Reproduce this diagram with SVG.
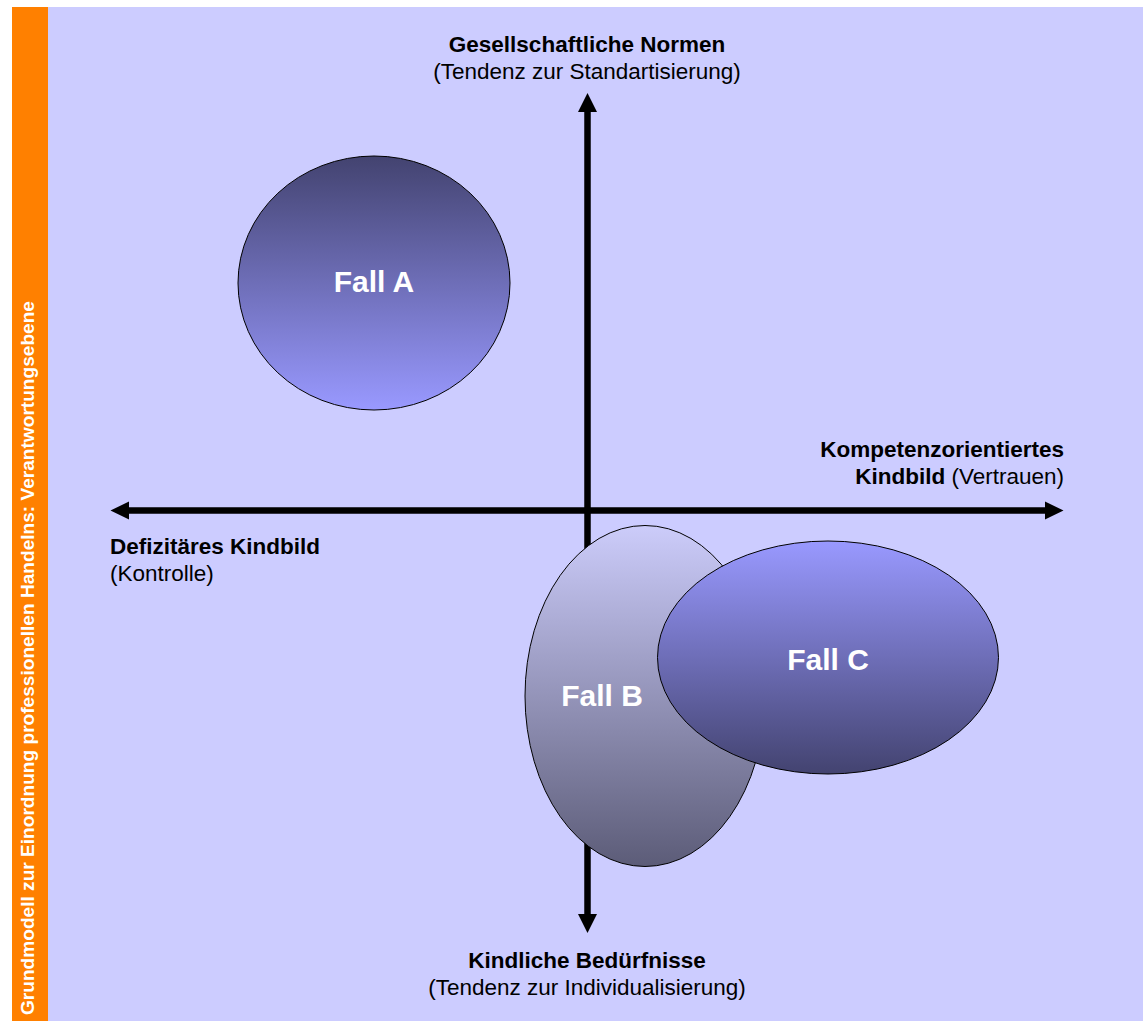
<svg xmlns="http://www.w3.org/2000/svg" width="1143" height="1021" viewBox="0 0 1143 1021">
<defs>
<linearGradient id="gA" x1="0" y1="0" x2="0" y2="1">
<stop offset="0" stop-color="#434370"/>
<stop offset="1" stop-color="#9999FF"/>
</linearGradient>
<linearGradient id="gC" x1="0" y1="0" x2="0" y2="1">
<stop offset="0" stop-color="#9999FF"/>
<stop offset="1" stop-color="#434370"/>
</linearGradient>
<linearGradient id="gB" x1="0" y1="0" x2="0" y2="1">
<stop offset="0" stop-color="#CCCCFA"/>
<stop offset="1" stop-color="#5C5C78"/>
</linearGradient>
</defs>
<style>
.lbl{font-family:"Liberation Sans",Arial,sans-serif;font-size:22.5px;fill:#000}
.b{font-weight:bold}
.fall{font-family:"Liberation Sans",Arial,sans-serif;font-size:30px;font-weight:bold;fill:#fff;text-anchor:middle}
.ell{stroke:#000;stroke-width:1}
.axis{stroke:#000;stroke-width:6.5;fill:none}
.head{fill:#000}
</style>
<rect x="0" y="0" width="1143" height="1021" fill="#fff"/>
<rect x="48" y="7" width="1095" height="1014" fill="#CCCCFF"/>
<g id="sidebar">
<rect x="12" y="7" width="36" height="1014" fill="#FF8000"/>
<text transform="translate(34,1015) rotate(-90)" font-family="Liberation Sans, Arial, sans-serif" font-size="19.1" font-weight="bold" fill="#fff">Grundmodell zur Einordnung professionellen Handelns: Verantwortungsebene</text>
</g>
<g id="connectors">
<line class="axis" x1="587.5" y1="110" x2="587.5" y2="916"/>
<polygon class="head" points="587.5,93 578,112 597,112"/>
<polygon class="head" points="587.5,933 578,914 597,914"/>
<line class="axis" x1="127" y1="510.5" x2="1047" y2="510.5"/>
<polygon class="head" points="110.5,510.5 129,501.5 129,519.5"/>
<polygon class="head" points="1063.5,510.5 1045,501.5 1045,519.5"/>
</g>
<g id="label-top">
<text class="lbl b" x="587" y="52" text-anchor="middle">Gesellschaftliche Normen</text>
<text class="lbl" x="587" y="79" text-anchor="middle">(Tendenz zur Standartisierung)</text>
</g>
<g id="label-left">
<text class="lbl b" x="110" y="554">Defizitäres Kindbild</text>
<text class="lbl" x="110" y="581">(Kontrolle)</text>
</g>
<g id="label-right">
<text class="lbl b" x="1064" y="457" text-anchor="end">Kompetenzorientiertes</text>
<text class="lbl" x="1064" y="484" text-anchor="end"><tspan class="b">Kindbild</tspan> (Vertrauen)</text>
</g>
<g id="label-bottom">
<text class="lbl b" x="587" y="968" text-anchor="middle">Kindliche Bedürfnisse</text>
<text class="lbl" x="587" y="995" text-anchor="middle">(Tendenz zur Individualisierung)</text>
</g>
<g id="fall-a">
<ellipse class="ell" cx="374" cy="283" rx="136" ry="127" fill="url(#gA)"/>
<text class="fall" x="374" y="292">Fall A</text>
</g>
<g id="fall-b">
<ellipse class="ell" cx="645" cy="696" rx="120" ry="170.5" fill="url(#gB)"/>
<text class="fall" x="602" y="706">Fall B</text>
</g>
<g id="fall-c">
<ellipse class="ell" cx="828" cy="657.5" rx="170.5" ry="116.5" fill="url(#gC)"/>
<text class="fall" x="828" y="670">Fall C</text>
</g>
</svg>
